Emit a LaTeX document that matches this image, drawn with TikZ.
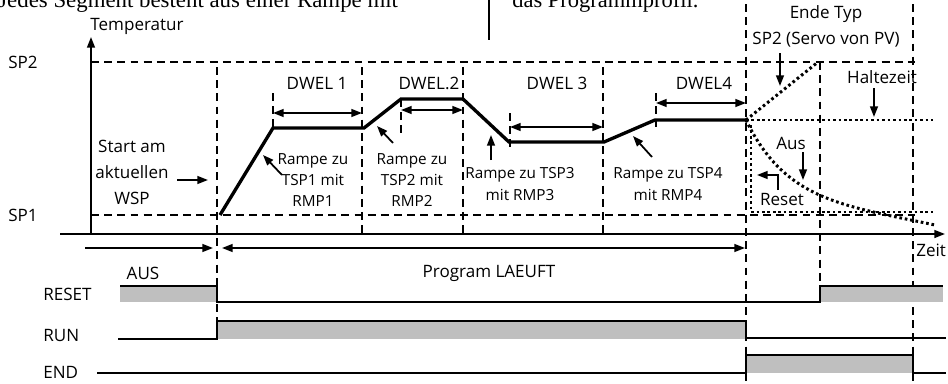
\documentclass[tikz,border=0pt]{standalone}
\usepackage{fontspec}
\setmainfont{Liberation Serif}
\setsansfont{Open Sans}
\usetikzlibrary{
  arrows.meta,
  positioning,
  calc,
}

\begin{document}
\begin{tikzpicture}[
  x=0.02cm, y=-0.02cm,
  font=\sffamily\fontsize{9.7}{14.8}\selectfont,
  every node/.style={align=center, inner sep=0pt},
  small/.style={font=\sffamily\fontsize{8.7}{12.2}\selectfont},
  guide/.style={dash pattern=on 4.5pt off 3pt, line width=1pt},
  profile/.style={line width=1.9pt, line join=miter},
  dotline/.style={line width=1.7pt, dash pattern=on 1.5pt off 1.6pt},
  signal/.style={line width=1.5pt},
  busy/.style={fill=black!25, draw=none},
  arr/.style={-{Triangle[length=6pt,width=4.4pt]}, line width=1pt},
  darr/.style={{Triangle[length=6pt,width=4.4pt]}-{Triangle[length=6pt,width=4.4pt]},
               line width=1pt},
]
\useasboundingbox (0,0) rectangle (948,383);

% cut-off page text
\node[anchor=base west, font=\rmfamily\fontsize{13}{14}\selectfont] (pagetxt)
  at (-2,7) {Jedes Segment besteht aus einer Rampe mit};
\node[anchor=base west, font=\rmfamily\fontsize{12.8}{14}\selectfont] (pagetxtb)
  at (512,7) {das Programmprofil.};
\draw[line width=1.2pt] (489,0) -- (489,40);

% axes
\draw[arr, line width=1.1pt] (91,234) -- (91,37);
\draw[arr, line width=1.1pt] (60,234) -- (945,234);
\node (temp) at (137,26) {Temperatur};
\node[anchor=west] (zeit) at (916,250) {Zeit};
\node[anchor=west] (sp2) at (8,62) {SP2};
\node[anchor=west] (sp1) at (8,215) {SP1};

% set point levels
\draw[guide] (91,62) -- (915,62);
\draw[guide] (91,215) -- (915,215);

% segment boundaries
\foreach \x/\ya/\yb in {217/67/342, 362/67/234, 463/67/234, 603/67/234,
                        746/4/383, 820/62/286, 913/4/383}{
  \draw[guide] (\x,\ya) -- (\x,\yb);
}
\foreach \x/\ya/\yb in {273/93/128, 401/99/133, 510/113/148, 656/93/130}{
  \draw[guide] (\x,\ya) -- (\x,\yb);
}

% program profile
\coordinate (p0) at (220,215);
\coordinate (p1) at (273,128);
\coordinate (p2) at (364,128);
\coordinate (p3) at (401,99);
\coordinate (p4) at (463,99);
\coordinate (p5) at (509,142);
\coordinate (p6) at (604,142);
\coordinate (p7) at (655,120);
\coordinate (p8) at (746,120);
\draw[profile] (p0) -- (p1) -- (p2) -- (p3) -- (p4) -- (p5) -- (p6) -- (p7) -- (p8);

% dwell periods
\foreach \xa/\xb/\y/\n/\t in {273/362/113/317/DWEL 1, 401/463/110/429/DWEL.2,
                              510/603/127/557/DWEL 3, 656/746/103/704/DWEL4}{
  \coordinate (da\n) at (\xa,\y);
  \coordinate (db\n) at (\xb,\y);
  \draw[darr] (da\n) -- (db\n);
  \node (dw\n) at (\n,83) {\t};
}

% start label
\node (start) at (132,172) {Start am\\aktuellen\\WSP};
\coordinate (starta) at (177,180);
\coordinate (startb) at (208,180);
\draw[arr] (starta) -- (startb);

% ramp labels
\node[small] (r1) at (313,180) {Rampe zu\\TSP1 mit\\RMP1};
\node[small] (r2) at (412,180) {Rampe zu\\TSP2 mit\\RMP2};
\node[small] (r3) at (520,184) {Rampe zu TSP3\\mit RMP3};
\node[small] (r4) at (668,184) {Rampe zu TSP4\\mit RMP4};
\foreach \n/\xa/\ya/\xb/\yb in {1/282/175/263/155, 2/393/143/377/126,
                                3/491/160/491/135, 4/652/157/633/136}{
  \coordinate (ra\n) at (\xa,\ya);
  \coordinate (rb\n) at (\xb,\yb);
  \draw[arr] (ra\n) -- (rb\n);
}

% end of program
\node (endtyp) at (826,26) {Ende Typ\\SP2 (Servo von PV)};
\node (halte) at (882,77) {Haltezeit};
\node (aus) at (791,143) {Aus};
\node (reset) at (782,199) {Reset};
\draw[dotline] (p8) -- (818,62);
\draw[dotline] (p8) -- (933,120);
\draw[dotline] (p8) .. controls (785,200) and (840,205) .. (935,225);
\draw[dotline] (751,125) -- (751,212) -- (933,212);
\draw[arr] (780,53) -- (780,86);
\draw[arr] (874,88) -- (874,117);
\draw[arr] (803,152) -- (803,180);
\draw[arr] (778,190) -- (778,175) -- (757,175);

% run states
\coordinate (ausa) at (85,248);
\coordinate (ausb) at (213,248);
\draw[arr] (ausa) -- (ausb);
\node (ausst) at (143,273) {AUS};
\coordinate (runa) at (222,248);
\coordinate (runb) at (745,248);
\draw[darr] (runa) -- (runb);
\node (runst) at (489,273) {Program LAEUFT};

% digital outputs
\node[anchor=west] (lreset) at (43,294) {RESET};
\node[anchor=west] (lrun) at (43,335) {RUN};
\node[anchor=west] (lend) at (43,372) {END};

\fill[busy] (120,286) rectangle (217,302);
\fill[busy] (820,286) rectangle (943,302);
\draw[signal] (120,286) -- (217,286) -- (217,302) -- (820,302) -- (820,286) -- (943,286);

\fill[busy] (217,321) rectangle (746,339);
\draw[signal] (118,339) -- (217,339) -- (217,321) -- (746,321) -- (746,338) -- (946,338);

\fill[busy] (746,355) rectangle (913,373);
\draw[signal] (97,373) -- (746,373) -- (746,355) -- (913,355) -- (913,373) -- (946,373);

\end{tikzpicture}
\end{document}
